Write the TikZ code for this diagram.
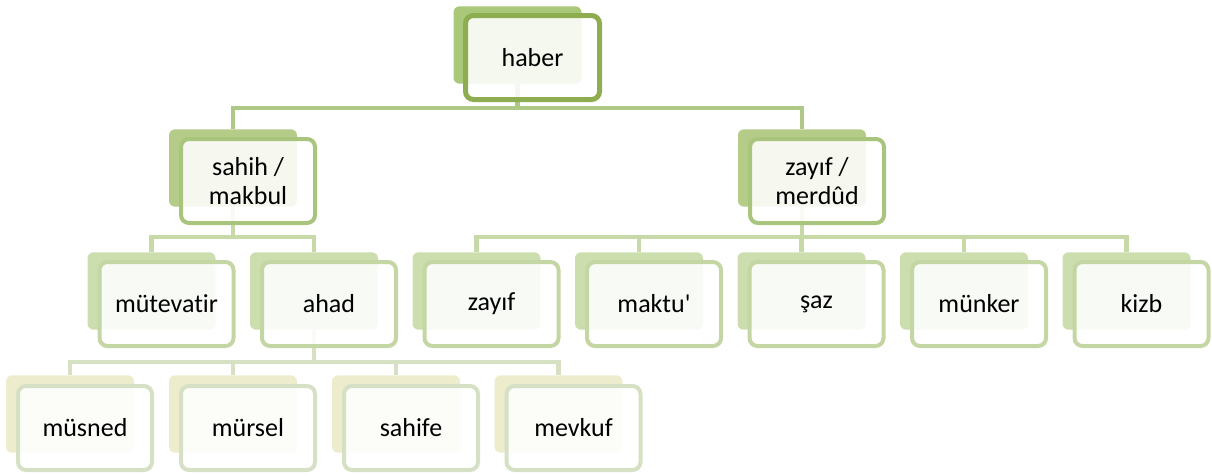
\documentclass[tikz,border=0pt]{standalone}
\usepackage{fontspec}
\setmainfont{Carlito}[Ligatures={TeXOff,CommonOff}]
\usepackage{tikz}
\usetikzlibrary{calc,backgrounds}
\definecolor{shOne}{HTML}{A9C879}
\definecolor{bdOne}{HTML}{8EAD50}
\definecolor{shTwo}{HTML}{B5CC89}
\definecolor{bdTwo}{HTML}{A9C47C}
\definecolor{shThree}{HTML}{CCDDAE}
\definecolor{bdThree}{HTML}{C3D6A3}
\definecolor{shFour}{HTML}{EDEDCE}
\definecolor{bdFour}{HTML}{D5E0C5}
\definecolor{lnOne}{HTML}{AEC986}
\definecolor{lnTwo}{HTML}{C6D9A6}
\definecolor{lnThree}{HTML}{D6E1C4}
\tikzset{
  shbox/.style={rounded corners=4.5pt, minimum width=96pt, minimum height=58pt, inner sep=0pt},
  frbox/.style={rounded corners=6pt, minimum width=100.5pt, minimum height=63pt, inner sep=0pt,
    fill=white, fill opacity=.88, text opacity=1, line width=3pt, align=center,
    font=\fontsize{19.5}{22}\selectfont},
  conn/.style={line width=3.5pt}
}

\begin{document}
\begin{tikzpicture}[x=0.75pt,y=-0.75pt]
\useasboundingbox (0,0) rectangle (1212,475);
% back plates
\node[shbox,fill=shOne] (haber-s) at (517.5,45) {};
\node[shbox,fill=shTwo] (sahih-s) at (233,168) {};
\node[shbox,fill=shTwo] (merdud-s) at (802,168) {};
\foreach \n/\x in {mutevatir/151.5,ahad/314,zayif/476.5,maktu/639,saz/801.5,munker/964,kizb/1126.5}
  \node[shbox,fill=shThree] (\n-s) at (\x,291) {};
\foreach \n/\x in {musned/70,mursel/233,sahife/396,mevkuf/558.5}
  \node[shbox,fill=shFour] (\n-s) at (\x,414) {};
% connectors
\begin{scope}[on background layer]
\foreach \c in {sahih,merdud}
  \draw[conn,lnOne] (haber-s) |- (\c-s |- 0,108) -- (\c-s.north);
\foreach \c in {mutevatir,ahad}
  \draw[conn,lnTwo] (sahih-s) |- (\c-s |- 0,237) -- (\c-s.north);
\foreach \c in {zayif,maktu,saz,munker,kizb}
  \draw[conn,lnTwo] (merdud-s) |- (\c-s |- 0,237) -- (\c-s.north);
\foreach \c in {musned,mursel,sahife,mevkuf}
  \draw[conn,lnThree] (ahad-s) |- (\c-s |- 0,362) -- (\c-s.north);
\end{scope}
% front boxes
\node[frbox,draw=bdOne,line width=3.75pt] (haber) at ($(haber-s)+(15,12.5)$) {haber};
\node[frbox,draw=bdTwo] (sahih) at ($(sahih-s)+(15,13)$) {sahih /\\makbul};
\node[frbox,draw=bdTwo] (merdud) at ($(merdud-s)+(15,13)$) {zayıf /\\merdûd};
\foreach \n/\t in {mutevatir/mütevatir,ahad/ahad,zayif/zayıf,maktu/maktu',saz/şaz,munker/münker,kizb/kizb}
  \node[frbox,draw=bdThree] (\n) at ($(\n-s)+(15,13)$) {\t};
\foreach \n/\t in {musned/müsned,mursel/mürsel,sahife/sahife,mevkuf/mevkuf}
  \node[frbox,draw=bdFour] (\n) at ($(\n-s)+(15,14)$) {\t};
\end{tikzpicture}
\end{document}
